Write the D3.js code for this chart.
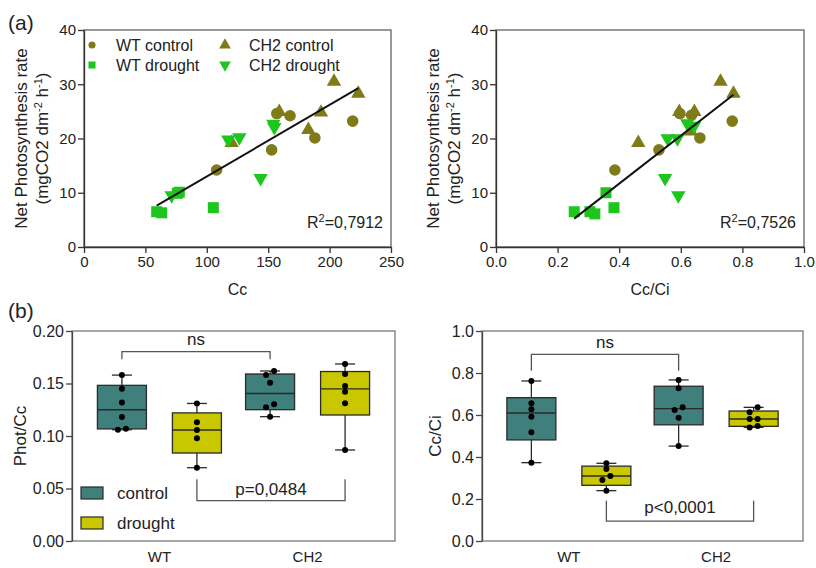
<!DOCTYPE html>
<html>
<head>
<meta charset="utf-8">
<script src="https://cdn.jsdelivr.net/npm/d3@7"></script>
<style>
  body { margin: 0; background: #fff; }
  text { font-family: "Liberation Sans", Arial, sans-serif; fill: #222; }
</style>
</head>
<body>
<svg id="fig" width="816" height="568"></svg>
<script>
// ---- (a) scatter data: [x, net photosynthesis] ----
const ccWtControl = [[108, 14.2], [152.8, 17.9], [157, 24.6], [167.8, 24.2], [188, 20.1], [218.8, 23.2]];
const ccWtDrought = [[59.2, 6.5], [63.3, 6.3], [76, 9.9], [77.6, 10.1], [105.3, 7.25]];
const ccCh2Control = [[120.2, 19.2], [159, 24.9], [182.7, 21.6], [193, 24.8], [203.6, 30.5], [223.4, 28.3]];
const ccCh2Drought = [[71.4, 9.5], [117.5, 19.8], [126.5, 20.2], [154.2, 22.7], [155, 22.1], [143.8, 12.7]];

const ratioWtControl = [[0.386, 14.2], [0.529, 17.9], [0.597, 24.6], [0.635, 24.3], [0.662, 20.1], [0.767, 23.2]];
const ratioWtDrought = [[0.254, 6.5], [0.305, 6.5], [0.321, 6.1], [0.357, 10.0], [0.383, 7.25]];
const ratioCh2Control = [[0.462, 19.2], [0.595, 24.9], [0.632, 21.3], [0.644, 24.9], [0.729, 30.5], [0.771, 28.3]];
const ratioCh2Drought = [[0.549, 12.7], [0.557, 20.0], [0.589, 20.0], [0.592, 9.5], [0.621, 22.8], [0.643, 22.3]];

// linear fits [slope, intercept] and R2 labels
const fitCc = [0.132, -0.2];
const fitRatio = [44.2, -6.0];
const r2Values = ["0,7912", "0,7526"];

const photTicks = [0, 10, 20, 30, 40];
const ccTicks = [0, 50, 100, 150, 200, 250];
const ratioTicks = [0, 0.2, 0.4, 0.6, 0.8, 1.0];

// ---- (b) box plot data ----
const genotypes = ["WT", "CH2"];
const treatments = ["control", "drought"];

const photCcWtControl = [0.158, 0.145, 0.132, 0.118, 0.107, 0.106];
const photCcWtDrought = [0.131, 0.113, 0.1057, 0.0978, 0.0698];
const photCcCh2Control = [0.1619, 0.1581, 0.1508, 0.1302, 0.1273, 0.1184];
const photCcCh2Drought = [0.1686, 0.159, 0.1476, 0.1422, 0.1311, 0.0867];

const ratioBoxWtControl = [0.762, 0.656, 0.627, 0.592, 0.5175, 0.373];
const ratioBoxWtDrought = [0.37, 0.343, 0.3095, 0.2905, 0.2397];
const ratioBoxCh2Control = [0.767, 0.727, 0.6365, 0.624, 0.587, 0.452];
const ratioBoxCh2Drought = [0.6365, 0.613, 0.581, 0.581, 0.5476, 0.541];

const photCcTicks = [0, 0.05, 0.10, 0.15, 0.20];
const ratioBoxTicks = [0, 0.2, 0.4, 0.6, 0.8, 1.0];
const pLabels = ["p=0,0484", "p<0,0001"];

const olive = "#7f7b19", green = "#1dc51d";
const teal = "#3f7f7c", yellow = "#c9c700";

const svg = d3.select("#fig");

function styleAxis(g, color) {
  g.style("color", color);
  g.selectAll("path, line").attr("stroke-width", 1.3);
  g.selectAll("text").style("font-size", "15px").attr("fill", "#222");
}

// ---------- scatter panels ----------
function scatterPanel(b, xDomain, xTicks, xFmt, xTitle, series, fit, r2) {
  const x = d3.scaleLinear().domain(xDomain).range([b.x0, b.x1]);
  const y = d3.scaleLinear().domain([0, 40]).range([b.y1, b.y0]);

  svg.append("rect")
    .attr("x", b.x0).attr("y", b.y0)
    .attr("width", b.x1 - b.x0).attr("height", b.y1 - b.y0)
    .attr("fill", "none").attr("stroke", "#555").attr("stroke-width", 1.2);

  svg.append("g")
    .attr("transform", `translate(0,${b.y1})`)
    .call(d3.axisBottom(x).tickValues(xTicks).tickFormat(xFmt).tickSize(6).tickSizeOuter(0).tickPadding(3))
    .call(g => styleAxis(g, "#333"));

  svg.append("g")
    .attr("transform", `translate(${b.x0},0)`)
    .call(d3.axisLeft(y).tickValues(photTicks).tickSize(6).tickSizeOuter(0).tickPadding(2))
    .call(g => styleAxis(g, "#333"));

  series.forEach(s => {
    svg.append("g").selectAll("path")
      .data(s.values)
      .join("path")
      .attr("transform", d => `translate(${x(d[0])},${y(d[1])}) rotate(${s.rot})`)
      .attr("d", d3.symbol(s.shape, s.size))
      .attr("fill", s.color);
  });

  const [lo, hi] = d3.extent(series.flatMap(s => s.values.map(d => d[0])));
  svg.append("line")
    .attr("x1", x(lo)).attr("y1", y(fit[0] * lo + fit[1]))
    .attr("x2", x(hi)).attr("y2", y(fit[0] * hi + fit[1]))
    .attr("stroke", "#111").attr("stroke-width", 2);

  const r = svg.append("text")
    .attr("x", b.x1 - 8).attr("y", b.y1 - 19)
    .attr("text-anchor", "end")
    .style("font-size", "16px");
  r.append("tspan").text("R");
  r.append("tspan").attr("baseline-shift", "super").style("font-size", "11px").text("2");
  r.append("tspan").text("=" + r2);

  svg.append("text")
    .attr("x", (b.x0 + b.x1) / 2).attr("y", b.y1 + 48)
    .attr("text-anchor", "middle")
    .style("font-size", "16px")
    .text(xTitle);

  const t = svg.append("text")
    .attr("transform", `translate(${b.x0 - 63},${(b.y0 + b.y1) / 2}) rotate(-90)`)
    .attr("text-anchor", "middle")
    .style("font-size", "17px");
  t.append("tspan").attr("x", 0).attr("dy", "0.35em").text("Net Photosynthesis rate");
  const t2 = t.append("tspan").attr("x", 0).attr("dy", "1.25em");
  t2.append("tspan").text("(mgCO2 dm");
  t2.append("tspan").attr("baseline-shift", "super").style("font-size", "11px").text("-2");
  t2.append("tspan").text(" h");
  t2.append("tspan").attr("baseline-shift", "super").style("font-size", "11px").text("-1");
  t2.append("tspan").text(")");
}

const wtCircle = { shape: d3.symbolCircle, size: 105, rot: 0, color: olive };
const wtSquare = { shape: d3.symbolSquare, size: 121, rot: 0, color: green };
const chUp = { shape: d3.symbolTriangle, size: 90, rot: 0, color: olive };
const chDown = { shape: d3.symbolTriangle, size: 90, rot: 180, color: green };

scatterPanel({ x0: 84, x1: 391, y0: 30, y1: 247 }, [0, 250], ccTicks, d3.format("d"), "Cc", [
  { ...wtCircle, values: ccWtControl },
  { ...chUp, values: ccCh2Control },
  { ...wtSquare, values: ccWtDrought },
  { ...chDown, values: ccCh2Drought }
], fitCc, r2Values[0]);

scatterPanel({ x0: 496, x1: 804, y0: 30, y1: 247 }, [0, 1], ratioTicks, d3.format(".1f"), "Cc/Ci", [
  { ...wtCircle, values: ratioWtControl },
  { ...chUp, values: ratioCh2Control },
  { ...wtSquare, values: ratioWtDrought },
  { ...chDown, values: ratioCh2Drought }
], fitRatio, r2Values[1]);

// scatter legend
const legendItems = [
  { ...wtCircle, size: 40, label: "WT control", x: 92, y: 45 },
  { ...wtSquare, size: 50, label: "WT drought", x: 92, y: 65 },
  { ...chUp, size: 60, label: "CH2 control", x: 225, y: 45 },
  { ...chDown, size: 60, label: "CH2 drought", x: 225, y: 65 }
];
const lg = svg.append("g").selectAll("g").data(legendItems).join("g")
  .attr("transform", d => `translate(${d.x},${d.y})`);
lg.append("path")
  .attr("transform", d => `rotate(${d.rot})`)
  .attr("d", d => d3.symbol(d.shape, d.size)())
  .attr("fill", d => d.color);
lg.append("text").attr("x", 24).attr("y", 5.5).style("font-size", "16px").text(d => d.label);

// ---------- box panels ----------
function quant(sorted, p) {
  const n = sorted.length, pos = p * (n + 1);
  if (pos <= 1) return sorted[0];
  if (pos >= n) return sorted[n - 1];
  const i = Math.floor(pos), f = pos - i;
  return sorted[i - 1] + f * (sorted[i] - sorted[i - 1]);
}

function boxPanel(b, yMax, yTicks, yFmt, yTitle, titleOff, groups, ns, pb) {
  const x = d3.scalePoint().domain(genotypes).range([b.x0, b.x1]).padding(0.59);
  const sub = d3.scaleBand().domain(treatments).range([-75, 75]);
  const y = d3.scaleLinear().domain([0, yMax]).range([b.y1, b.y0]);
  const boxW = 49, capW = 20;

  svg.append("rect")
    .attr("x", b.x0).attr("y", b.y0)
    .attr("width", b.x1 - b.x0).attr("height", b.y1 - b.y0)
    .attr("fill", "none").attr("stroke", "#7a7a7a").attr("stroke-width", 1.3);

  svg.append("g")
    .attr("transform", `translate(${b.x0},0)`)
    .call(d3.axisLeft(y).tickValues(yTicks).tickFormat(yFmt).tickSize(6).tickSizeOuter(0).tickPadding(2))
    .call(g => styleAxis(g, "#444"))
    .call(g => g.selectAll("text").style("font-size", "16px"));

  svg.append("g").selectAll("text").data(genotypes).join("text")
    .attr("x", d => x(d)).attr("y", b.y1 + 21)
    .attr("text-anchor", "middle")
    .style("font-size", "15px")
    .text(d => d);

  groups.forEach(gr => {
    const cx = x(gr.geno) + sub(gr.treat) + sub.bandwidth() / 2;
    const s = gr.values.slice().sort(d3.ascending);
    const q1 = quant(s, 0.25), med = quant(s, 0.5), q3 = quant(s, 0.75);
    const g = svg.append("g").attr("stroke", "#2a2a2a").attr("stroke-width", 1.3);
    g.append("line").attr("x1", cx).attr("x2", cx).attr("y1", y(s[0])).attr("y2", y(s[s.length - 1]));
    g.append("line").attr("x1", cx - capW / 2).attr("x2", cx + capW / 2).attr("y1", y(s[0])).attr("y2", y(s[0]));
    g.append("line").attr("x1", cx - capW / 2).attr("x2", cx + capW / 2)
      .attr("y1", y(s[s.length - 1])).attr("y2", y(s[s.length - 1]));
    g.append("rect")
      .attr("x", cx - boxW / 2).attr("y", y(q3))
      .attr("width", boxW).attr("height", y(q1) - y(q3))
      .attr("fill", gr.treat === "control" ? teal : yellow);
    g.append("line").attr("x1", cx - boxW / 2).attr("x2", cx + boxW / 2).attr("y1", y(med)).attr("y2", y(med));

    // small horizontal spread for points that overlap
    const offs = [];
    s.forEach((v, i) => {
      let o = 0;
      if (i > 0 && Math.abs(y(v) - y(s[i - 1])) < 5) {
        if (offs[i - 1] === 0) { offs[i - 1] = -4; o = 4; } else o = -offs[i - 1];
      }
      offs.push(o);
    });
    svg.append("g").selectAll("circle").data(s).join("circle")
      .attr("cx", (d, i) => cx + offs[i]).attr("cy", d => y(d))
      .attr("r", 3).attr("fill", "#000");
  });

  const cxOf = (geno, treat) => x(geno) + sub(treat) + sub.bandwidth() / 2;
  const bracket = (x1, x2, yBar, yTip, label, yText) => {
    svg.append("path")
      .attr("d", `M${x1},${y(yTip)}V${y(yBar)}H${x2}V${y(yTip)}`)
      .attr("fill", "none").attr("stroke", "#555").attr("stroke-width", 1.3);
    svg.append("text")
      .attr("x", (x1 + x2) / 2).attr("y", yText)
      .attr("text-anchor", "middle").style("font-size", "17px").text(label);
  };
  bracket(cxOf("WT", "control"), cxOf("CH2", "control"), ns.bar, ns.tip, "ns", ns.text);
  bracket(cxOf("WT", "drought"), cxOf("CH2", "drought"), pb.bar, pb.tip, pb.label, pb.text);

  svg.append("text")
    .attr("transform", `translate(${b.x0 - titleOff},${(b.y0 + b.y1) / 2}) rotate(-90)`)
    .attr("text-anchor", "middle").attr("dy", "0.35em")
    .style("font-size", "17px")
    .text(yTitle);
}

boxPanel({ x0: 72, x1: 395, y0: 331, y1: 541 }, 0.20, photCcTicks, d3.format(".2f"), "Phot/Cc", 52, [
  { geno: "WT", treat: "control", values: photCcWtControl },
  { geno: "WT", treat: "drought", values: photCcWtDrought },
  { geno: "CH2", treat: "control", values: photCcCh2Control },
  { geno: "CH2", treat: "drought", values: photCcCh2Drought }
], { bar: 0.1803, tip: 0.173, text: 345 },
   { bar: 0.0384, tip: 0.0588, label: pLabels[0], text: 495 });

boxPanel({ x0: 482, x1: 803, y0: 331, y1: 541 }, 1.0, ratioBoxTicks, d3.format(".1f"), "Cc/Ci", 47, [
  { geno: "WT", treat: "control", values: ratioBoxWtControl },
  { geno: "WT", treat: "drought", values: ratioBoxWtDrought },
  { geno: "CH2", treat: "control", values: ratioBoxCh2Control },
  { geno: "CH2", treat: "drought", values: ratioBoxCh2Drought }
], { bar: 0.889, tip: 0.811, text: 348 },
   { bar: 0.095, tip: 0.192, label: pLabels[1], text: 513 });

// box legend
const boxLegend = svg.append("g").selectAll("g").data(treatments).join("g")
  .attr("transform", (d, i) => `translate(81,${487 + i * 30})`);
boxLegend.append("rect")
  .attr("width", 22).attr("height", 12)
  .attr("fill", d => d === "control" ? teal : yellow)
  .attr("stroke", "#2a2a2a").attr("stroke-width", 1.2);
boxLegend.append("text").attr("x", 36).attr("y", 11.5).style("font-size", "17px").text(d => d);

// panel labels
svg.append("text").attr("x", 8).attr("y", 30).style("font-size", "21px").text("(a)");
svg.append("text").attr("x", 8).attr("y", 318).style("font-size", "21px").text("(b)");
</script>
</body>
</html>
